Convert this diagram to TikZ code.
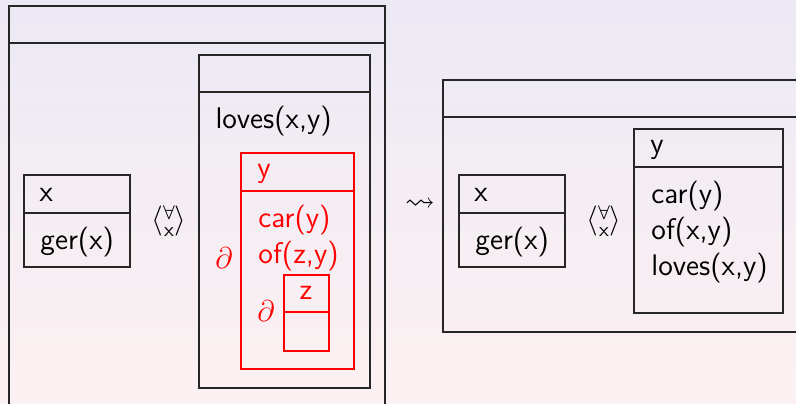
\documentclass[tikz,border=0pt]{standalone}
\usepackage{amsmath,amssymb}
\usetikzlibrary{positioning}
\definecolor{slidetop}{HTML}{ECE9F4}
\definecolor{slidebottom}{HTML}{FCF1F2}
\tikzset{
  drsline/.style={line width=0.6pt,black!85},
  subline/.style={line width=0.5pt,red},
  cond/.style={anchor=base west,inner sep=0pt},
  quant/.style={inner sep=0pt},
}
% a box with a header row: left, top, right, bottom, header line
\newcommand{\drsbox}[6][drsline]{%
  \draw[#1] (#2,#3) rectangle (#4,#5) (#2,#6) -- (#4,#6);}
\begin{document}
\begin{tikzpicture}[x=0.4pt,y=-0.4pt,font=\sffamily\fontsize{11.9}{14}\selectfont]
\shade[top color=slidetop,bottom color=slidebottom] (0,0) rectangle (796,404);
\useasboundingbox (0,0) rectangle (796,404);
\begin{scope}
\clip (0,0) rectangle (796,404);
% left hand side
\drsbox{9}{6}{385}{430}{43}
\drsbox{24}{175}{130}{267}{213}
\node[cond] (lx) at (39,202) {x};
\node[cond] (lger) at (40,250) {ger(x)};
\node[quant] (lall) at (169,221) {$\left\langle\substack{\forall\\\mathsf{x}}\right\rangle$};
\drsbox{199}{55}{370}{388}{92}
\node[cond] (lloves) at (215,129) {loves(x,y)};
\drsbox[subline]{241}{153}{354}{369}{191}
\node[cond,red] (ly) at (257,178) {y};
\node[cond,red] (lcar) at (258,228) {car(y)};
\node[cond,red] (lof) at (258,264) {of(z,y)};
\node[quant,red] (dy) at (224,258) {$\partial$};
\drsbox[subline]{284}{275}{329}{351}{312}
\node[red] (lz) at (306,293) {z};
\node[quant,red] (dz) at (266,311) {$\partial$};
% rewrite step
\node[quant] (step) at (420,205) {$\rightsquigarrow$};
% right hand side
\drsbox{443}{80}{810}{332}{117}
\drsbox{459}{175}{565}{267}{213}
\node[cond] (rx) at (474,202) {x};
\node[cond] (rger) at (475,250) {ger(x)};
\node[quant] (rall) at (604,221) {$\left\langle\substack{\forall\\\mathsf{x}}\right\rangle$};
\drsbox{634}{129}{783}{313}{167}
\node[cond] (ry) at (650,154) {y};
\node[cond] (rcar) at (651,204) {car(y)};
\node[cond] (rof) at (651,240) {of(x,y)};
\node[cond] (rloves) at (651,276) {loves(x,y)};
\end{scope}
\end{tikzpicture}
\end{document}
